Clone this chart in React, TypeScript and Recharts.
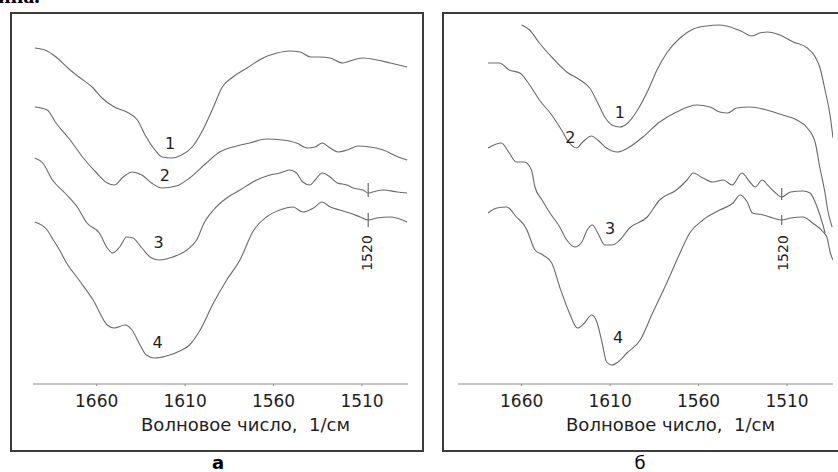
import React from 'react';
import { LineChart, Line, XAxis, YAxis, ReferenceLine, ReferenceDot } from 'recharts';

// wavenumber axis (1/cm), shared by both panels
const DOMAIN = [1484, 1696];
const TICKS = [1660, 1610, 1560, 1510];

// panel "а" spectra: wavenumber + relative transmittance (arb. units)
const A1_WN = [1695, 1688, 1683, 1675, 1670, 1662, 1657, 1650, 1643, 1637, 1632, 1627, 1623, 1617.5, 1612, 1606, 1600, 1594, 1589, 1583, 1575, 1566, 1558, 1551, 1545, 1539, 1534, 1528, 1521, 1515, 1509.5, 1501.5, 1494, 1484.5];
const A1_T = [336, 333, 327, 314, 307, 296, 286, 277, 272, 264, 247, 234, 227, 226, 229, 237, 254, 277, 297, 307, 316, 326, 331, 333, 332, 327, 327, 326, 321, 324, 326, 324, 321, 317];

const A2_WN = [1695, 1688, 1683, 1675, 1668, 1660, 1654, 1650, 1645, 1640, 1634.5, 1629, 1623, 1615, 1607.5, 1598, 1590.5, 1583, 1573.5, 1564, 1555, 1547, 1541, 1536.5, 1532.5, 1528, 1523.5, 1518.5, 1512, 1505.5, 1498, 1489.5, 1484.5];
const A2_T = [277, 274, 261, 244, 227, 211, 201, 199, 207, 212, 209, 201, 196, 198, 206, 221, 232, 237, 241, 245, 244, 241, 236, 237, 241, 236, 232, 234, 238, 237, 234, 227, 224];

const A3_WN = [1695, 1690.5, 1685, 1678, 1671, 1665.5, 1658.5, 1654, 1651, 1647, 1643, 1639.5, 1634.5, 1629, 1624.5, 1617, 1609, 1603.5, 1599, 1594, 1586.5, 1579, 1569.5, 1562, 1556.5, 1551, 1547, 1543.5, 1539.5, 1536.5, 1532.5, 1528, 1524, 1518.5, 1515, 1509.5, 1506.5, 1504, 1498, 1490, 1484.5];
const A3_T = [226, 221, 204, 191, 177, 161, 151, 136, 131, 137, 147, 146, 136, 126, 124, 127, 134, 144, 162, 174, 186, 194, 204, 209, 211, 214, 211, 202, 199, 204, 211, 207, 201, 199, 196, 194, 191, 192, 194, 192, 191];

const A4_WN = [1695, 1688, 1684.5, 1681, 1677, 1670, 1662, 1654, 1650, 1644, 1640, 1635.5, 1632, 1627, 1620.5, 1613, 1607.5, 1601.5, 1594, 1586.5, 1579, 1571.5, 1564, 1556.5, 1549, 1543.5, 1537.5, 1532.5, 1528, 1522.5, 1517, 1511, 1506.5, 1501.5, 1494, 1484.5];
const A4_T = [162, 154, 144, 134, 121, 104, 84, 59, 56, 59, 54, 39, 29, 26, 28, 33, 39, 54, 81, 104, 124, 153, 167, 174, 177, 172, 176, 182, 177, 174, 171, 167, 164, 166, 167, 162];

// panel "б" spectra
const B1_WN = [1660, 1655.5, 1650, 1642.5, 1634.5, 1627, 1621.5, 1617, 1613, 1609, 1604.5, 1600, 1594.5, 1588.5, 1583.5, 1578, 1570.5, 1563, 1555.5, 1548, 1540.5, 1535, 1530, 1525.5, 1521, 1514, 1506.5, 1498.5, 1494, 1491.5, 1488.5, 1485.5, 1484];
const B1_T = [359, 354, 341, 326, 312, 304, 296, 281, 267, 259, 257, 261, 274, 294, 314, 331, 346, 355, 358, 359, 356, 352, 348, 351, 352, 349, 342, 336, 327, 317, 294, 267, 246];

const B2_WN = [1679, 1672.5, 1667, 1661, 1655.5, 1650, 1643, 1637.5, 1633, 1629, 1625.5, 1620.5, 1617, 1612, 1606, 1600, 1591.5, 1582, 1572.5, 1561, 1553.5, 1548, 1543.5, 1538.5, 1531, 1521.5, 1512.5, 1504.5, 1498.5, 1494, 1491.5, 1488.5, 1487, 1484.5];
const B2_T = [321, 321, 314, 311, 299, 284, 269, 254, 241, 236, 242, 248, 244, 236, 232, 236, 247, 262, 272, 279, 277, 272, 271, 276, 277, 274, 269, 264, 256, 241, 217, 191, 174, 157];

const B3_WN = [1679, 1671.5, 1667, 1663, 1658.5, 1654.5, 1652.5, 1648.5, 1644, 1638.5, 1634.5, 1630, 1626, 1623, 1620, 1617, 1613, 1609, 1604.5, 1599, 1589, 1582, 1572.5, 1566.5, 1563, 1557.5, 1552, 1546, 1541, 1535.5, 1531, 1528, 1524, 1521, 1517, 1513, 1508, 1501, 1497, 1493, 1490, 1488.5];
const B3_T = [236, 241, 231, 222, 222, 214, 197, 184, 171, 157, 144, 137, 142, 154, 159, 151, 139, 139, 144, 156, 167, 184, 194, 204, 211, 206, 202, 204, 199, 211, 202, 197, 204, 199, 192, 187, 192, 193, 191, 177, 161, 151];

const B4_WN = [1679, 1674, 1668.5, 1663, 1657, 1655.5, 1652.5, 1648, 1643, 1638.5, 1633, 1628.5, 1624.5, 1620.5, 1617.5, 1614.5, 1612, 1609, 1605.5, 1600.5, 1593, 1586, 1578, 1570.5, 1565, 1557.5, 1548, 1540.5, 1536.5, 1532.5, 1529.5, 1523.5, 1518, 1513, 1508, 1501, 1495.5, 1489.5, 1487.5, 1485.5, 1484];
const B4_T = [171, 176, 177, 167, 154, 147, 134, 129, 121, 97, 71, 56, 61, 69, 62, 41, 22, 19, 22, 31, 44, 71, 101, 131, 151, 164, 174, 181, 189, 182, 171, 169, 166, 164, 166, 167, 161, 152, 147, 131, 124];

// curve numbers: [text, wn, t]
const A_LABELS: [string, number, number][] = [['1', 1618.5, 241], ['2', 1621.5, 209], ['3', 1625, 142], ['4', 1625.5, 42]];
const B_LABELS: [string, number, number][] = [['1', 1604.5, 272], ['2', 1632.5, 247], ['3', 1610, 156], ['4', 1605.5, 47]];

// 1520 band markers: wn, [t from, t to] for curves 3 and 4, label position
const A_MARK_WN = 1506.5;
const A_MARKS = [[187, 201], [157, 171]];
const A_MARK_LABEL = [1507, 131];
const B_MARK_WN = 1513;
const B_MARKS = [[184, 196], [159, 169]];
const B_MARK_LABEL = [1512.5, 131];

const zip = (wn: number[], t: number[]) => wn.map((w, i) => ({ wn: w, t: t[i] }));

const FONT = '"DejaVu Sans", Arial, sans-serif';
const LINE = '#6a6a6a';

type PanelProps = {
  left: number;
  width: number;
  marginLeft: number;
  marginRight: number;
  curves: { wn: number; t: number }[][];
  labels: [string, number, number][];
  markWn: number;
  marks: number[][];
  markLabel: number[];
};

function Panel({ left, width, marginLeft, marginRight, curves, labels, markWn, marks, markLabel }: PanelProps) {
  return (
    <div style={{ position: 'absolute', left, top: 0 }}>
      <LineChart width={width} height={472} margin={{ top: 20, right: marginRight, bottom: 28, left: marginLeft }}>
        <XAxis
          dataKey="wn"
          type="number"
          domain={DOMAIN}
          allowDataOverflow
          reversed
          ticks={TICKS}
          height={60}
          tickSize={2}
          tickMargin={9}
          axisLine={{ stroke: '#8c8c8c' }}
          tickLine={{ stroke: '#8c8c8c' }}
          tick={{ fill: '#1e1e1e', fontSize: 17, fontFamily: FONT }}
          label={{
            content: ({ viewBox }: any) => (
              <text x={viewBox.x + viewBox.width / 2 + 25} y={viewBox.y + 47} textAnchor="middle" fill="#1e1e1e" fontSize={18} fontFamily={FONT} style={{ whiteSpace: 'pre' }}>
                {'Волновое число,  1/см'}
              </text>
            ),
          }}
        />
        <YAxis hide type="number" domain={[0, 364]} />
        {curves.map((d, i) => (
          <Line key={i} data={d} dataKey="t" type="monotone" stroke={LINE} strokeWidth={1.1} dot={false} isAnimationActive={false} />
        ))}
        {marks.map((m, i) => (
          <ReferenceLine key={'m' + i} segment={[{ x: markWn, y: m[0] }, { x: markWn, y: m[1] }]} stroke={LINE} strokeWidth={1.2} ifOverflow="visible" />
        ))}
        {labels.map(([txt, wn, t]) => (
          <ReferenceDot
            key={'l' + txt}
            x={wn}
            y={t}
            ifOverflow="visible"
            shape={(p: any) => (
              <text x={p.cx} y={p.cy} textAnchor="middle" dominantBaseline="central" fontSize={16} fontFamily={FONT} fill="#1e1e1e">
                {txt}
              </text>
            )}
          />
        ))}
        <ReferenceDot
          x={markLabel[0]}
          y={markLabel[1]}
          ifOverflow="visible"
          shape={(p: any) => (
            <text x={p.cx} y={p.cy} transform={`rotate(-90 ${p.cx} ${p.cy})`} textAnchor="middle" dominantBaseline="central" fontSize={14} fontFamily={FONT} fill="#1e1e1e">
              1520
            </text>
          )}
        />
      </LineChart>
    </div>
  );
}

const frame: React.CSSProperties = {
  position: 'absolute',
  top: 12,
  width: 414,
  height: 440,
  border: '2px solid #3c3c3c',
  boxSizing: 'border-box',
};

const letter: React.CSSProperties = {
  position: 'absolute',
  width: 40,
  top: 452,
  textAlign: 'center',
  fontFamily: FONT,
  fontSize: 18,
  lineHeight: 'normal',
};

export default function App() {
  return (
    <div style={{ position: 'absolute', left: 0, top: 0, width: 838, height: 472, background: '#fff', overflow: 'hidden' }}>
      <div style={{ position: 'absolute', left: -2, top: -15, fontFamily: '"Liberation Serif", serif', fontWeight: 'bold', fontSize: 22, lineHeight: '22px' }}>ина.</div>
      <div style={{ ...frame, left: 10 }} />
      <div style={{ ...frame, left: 442 }} />
      <Panel
        left={0}
        width={420}
        marginLeft={33}
        marginRight={12}
        curves={[zip(A1_WN, A1_T), zip(A2_WN, A2_T), zip(A3_WN, A3_T), zip(A4_WN, A4_T)]}
        labels={A_LABELS}
        markWn={A_MARK_WN}
        marks={A_MARKS}
        markLabel={A_MARK_LABEL}
      />
      <Panel
        left={430}
        width={408}
        marginLeft={28}
        marginRight={5}
        curves={[zip(B1_WN, B1_T), zip(B2_WN, B2_T), zip(B3_WN, B3_T), zip(B4_WN, B4_T)]}
        labels={B_LABELS}
        markWn={B_MARK_WN}
        marks={B_MARKS}
        markLabel={B_MARK_LABEL}
      />
      <div style={{ ...letter, left: 198, fontWeight: 'bold' }}>а</div>
      <div style={{ ...letter, left: 620 }}>б</div>
    </div>
  );
}
